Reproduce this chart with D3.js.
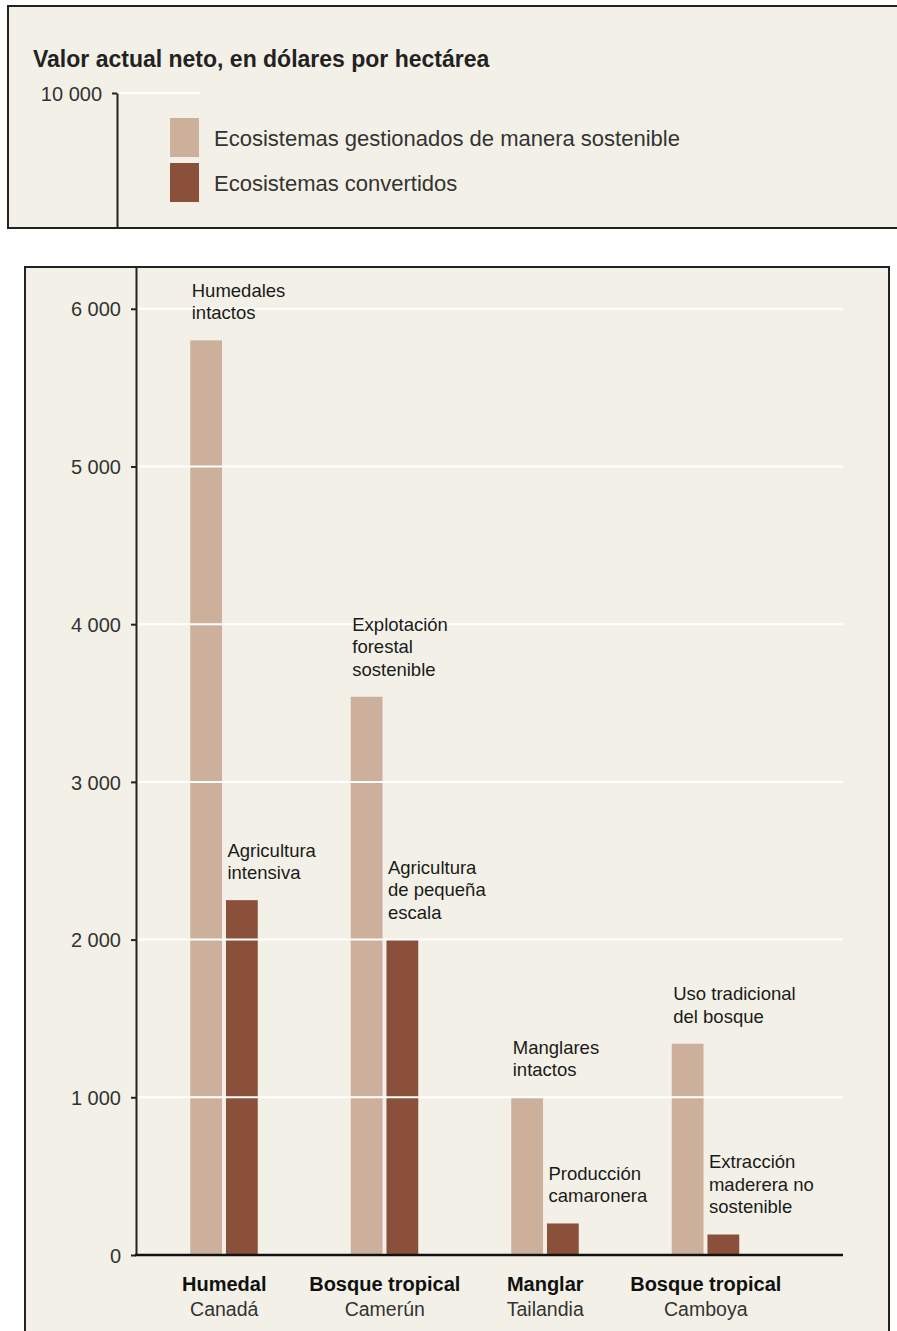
<!DOCTYPE html>
<html lang="es">
<head>
<meta charset="utf-8">
<script src="https://d3js.org/d3.v7.min.js"></script>
<style>
  body { margin: 0; background: #fff; }
  svg text { font-family: "Liberation Sans", Arial, sans-serif; }
  .panel { fill: #f3f1e7; stroke: #222; stroke-width: 2; }
  .axis path, .axis line { stroke: #222; stroke-width: 2; }
  .axis text { font-size: 20px; fill: #333; }
  .grid line { stroke: #fff; stroke-width: 2; }
  .barlabel { font-size: 18.5px; fill: #1a1a1a; }
  .cat { font-size: 20px; font-weight: bold; fill: #111; }
  .country { font-size: 19.5px; fill: #333; }
</style>
</head>
<body>
<svg width="897" height="1331"></svg>
<script>

// datos
var categories = ["Humedal", "Bosque tropical", "Manglar", "Bosque tropical "];
var countries  = ["Canadá", "Camerún", "Tailandia", "Camboya"];
var series     = ["Ecosistemas gestionados de manera sostenible", "Ecosistemas convertidos"];
var sostenible = [5800, 3540, 1000, 1340];
var convertido = [2250, 2000, 200, 130];
var labelsSostenible = [
  ["Humedales", "intactos"],
  ["Explotación", "forestal", "sostenible"],
  ["Manglares", "intactos"],
  ["Uso tradicional", "del bosque"]
];
var labelsConvertido = [
  ["Agricultura", "intensiva"],
  ["Agricultura", "de pequeña", "escala"],
  ["Producción", "camaronera"],
  ["Extracción", "maderera no", "sostenible"]
];
var lowerTicks = [0, 1000, 2000, 3000, 4000, 5000, 6000];
var upperTicks = [10000];
var colors = ["#cdb09c", "#8b5039"];

var svg = d3.select("svg");

var fmt = d3.formatLocale({ decimal: ",", thousands: " ", grouping: [3], currency: ["", "$"] }).format(",");

// ---- paneles ----
svg.append("rect").attr("class", "panel")
    .attr("x", 8).attr("y", 6).attr("width", 900).attr("height", 222);
svg.append("rect").attr("class", "panel")
    .attr("x", 25).attr("y", 267).attr("width", 864).attr("height", 1100);

// ---- panel superior: título, eje roto y leyenda ----
svg.append("text")
    .attr("x", 33).attr("y", 67)
    .style("font-size", "23px").style("font-weight", "bold").style("fill", "#222")
    .text("Valor actual neto, en dólares por hectárea");

var yTop = d3.scaleLinear().domain([9130, 10000]).range([228, 93]);

svg.append("g").attr("class", "grid")
  .selectAll("line").data(upperTicks).enter().append("line")
    .attr("x1", 118).attr("x2", 200)
    .attr("y1", function(d) { return yTop(d); })
    .attr("y2", function(d) { return yTop(d); });

svg.append("g").attr("class", "axis")
    .attr("transform", "translate(117,0)")
    .call(d3.axisLeft(yTop).tickValues(upperTicks).tickFormat(fmt).tickSize(5).tickSizeOuter(0).tickPadding(10))
  .selectAll("text").attr("dy", "0.36em");

var legend = svg.append("g").selectAll("g").data(series).enter().append("g")
    .attr("transform", function(d, i) { return "translate(170," + (118 + i * 45) + ")"; });
legend.append("rect")
    .attr("width", 29).attr("height", 39)
    .attr("fill", function(d, i) { return colors[i]; });
legend.append("text")
    .attr("x", 44).attr("y", 28)
    .style("font-size", "22px").style("fill", "#333")
    .text(function(d) { return d; });

// ---- panel inferior ----
var y = d3.scaleLinear().domain([0, 6265]).range([1255, 267]);
var x = d3.scaleBand().domain(categories).range([144, 786]);
var xs = d3.scaleBand().domain(series).range([x.bandwidth() / 2 - 34, x.bandwidth() / 2 + 33.5]).paddingInner(0.11);

var data = categories.map(function(c, i) {
  return [
    { cat: c, s: series[0], v: sostenible[i], label: labelsSostenible[i] },
    { cat: c, s: series[1], v: convertido[i], label: labelsConvertido[i] }
  ];
});

var groups = svg.append("g").selectAll("g").data(data).enter().append("g")
    .attr("transform", function(d) { return "translate(" + x(d[0].cat) + ",0)"; });

groups.selectAll("rect").data(function(d) { return d; }).enter().append("rect")
    .attr("x", function(d) { return xs(d.s); })
    .attr("width", xs.bandwidth())
    .attr("y", function(d) { return y(d.v); })
    .attr("height", function(d) { return y(0) - y(d.v); })
    .attr("fill", function(d, i) { return colors[i]; });

// líneas de la cuadrícula (blancas, cruzan las barras)
svg.append("g").attr("class", "grid")
  .selectAll("line").data(lowerTicks.slice(1)).enter().append("line")
    .attr("x1", 137).attr("x2", 843)
    .attr("y1", function(d) { return y(d); })
    .attr("y2", function(d) { return y(d); });

// etiquetas de las barras (encima de la cuadrícula)
var labelLayer = svg.append("g").selectAll("g").data(data).enter().append("g")
    .attr("transform", function(d) { return "translate(" + x(d[0].cat) + ",0)"; });

labelLayer.selectAll("text").data(function(d) { return d; }).enter().append("text")
    .attr("class", "barlabel")
    .attr("x", function(d) { return xs(d.s) + 1.5; })
    .attr("y", function(d) { return y(d.v) - 21 - (d.label.length - 1) * 22.5; })
  .selectAll("tspan").data(function(d) { return d.label; }).enter().append("tspan")
    .attr("x", function() { return d3.select(this.parentNode).attr("x"); })
    .attr("dy", function(d, i) { return i ? 22.5 : 0; })
    .text(function(d) { return d; });

// eje y
svg.append("g").attr("class", "axis")
    .attr("transform", "translate(136,0)")
    .call(d3.axisLeft(y).tickValues(lowerTicks).tickFormat(fmt).tickSize(5).tickSizeOuter(0).tickPadding(10))
  .selectAll("text").attr("dy", "0.36em");

// línea base
svg.append("line")
    .attr("x1", 135).attr("x2", 843)
    .attr("y1", y(0)).attr("y2", y(0))
    .attr("stroke", "#111").attr("stroke-width", 2.5);

// categorías
var cats = svg.append("g").selectAll("g").data(categories).enter().append("g")
    .attr("transform", function(d) { return "translate(" + (x(d) + x.bandwidth() / 2) + ",0)"; });
cats.append("text").attr("class", "cat")
    .attr("text-anchor", "middle").attr("y", 1291)
    .text(function(d) { return d.trim(); });
cats.append("text").attr("class", "country")
    .attr("text-anchor", "middle").attr("y", 1316)
    .text(function(d, i) { return countries[i]; });

</script>
</body>
</html>
